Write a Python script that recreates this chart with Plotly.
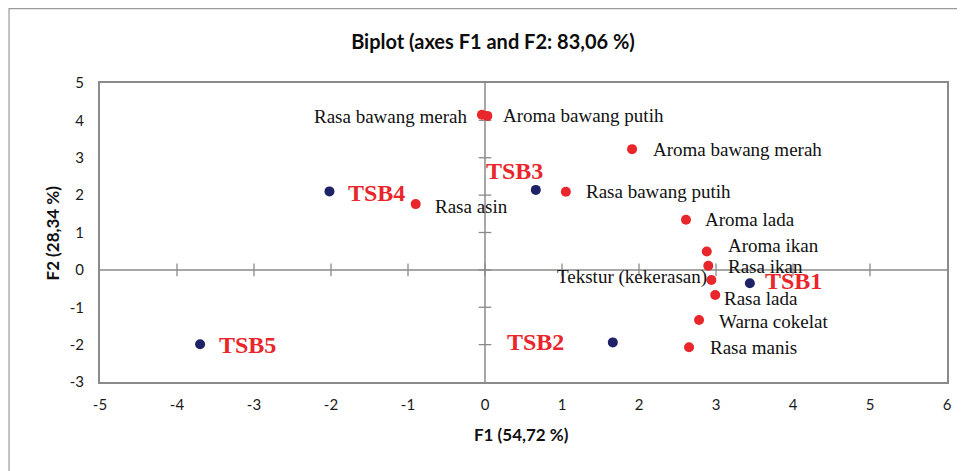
import plotly.graph_objects as go

# ---------------- data ----------------
obs_names = ["TSB1", "TSB2", "TSB3", "TSB4", "TSB5"]
obs_f1 = [3.44, 1.66, 0.66, -2.02, -3.70]
obs_f2 = [-0.36, -1.94, 2.14, 2.10, -1.99]

var_names = ["Rasa bawang merah", "Aroma bawang putih", "Aroma bawang merah",
             "Rasa bawang putih", "Aroma lada", "Rasa asin", "Aroma ikan",
             "Rasa ikan", "Tekstur (kekerasan)", "Rasa lada", "Warna cokelat",
             "Rasa manis"]
var_f1 = [-0.04, 0.03, 1.91, 1.05, 2.61, -0.90, 2.88, 2.90, 2.94, 2.99, 2.78, 2.65]
var_f2 = [4.15, 4.12, 3.23, 2.09, 1.34, 1.76, 0.49, 0.11, -0.27, -0.67, -1.34, -2.07]

x_ticks = [-5, -4, -3, -2, -1, 0, 1, 2, 3, 4, 5, 6]
x_tick_labels = ["-5", "-4", "-3", "-2", "-1", "0", "1", "2", "3", "4", "5", "6"]
y_ticks = [-3, -2, -1, 0, 1, 2, 3, 4, 5]
y_tick_labels = ["-3", "-2", "-1", "0", "1", "2", "3", "4", "5"]

title_text = "Biplot (axes F1 and F2: 83,06 %)"
x_title = "F1 (54,72 %)"
y_title = "F2 (28,34 %)"

# ---------------- styles ----------------
RED = "#E8262B"
NAVY = "#1F2266"
GREY = "#8A8A8A"
SANS = "Lato, 'Open Sans', sans-serif"
SERIF = "'Liberation Serif', 'Times New Roman', serif"

# label placement (anchor, xshift px, yshift px)
obs_place = {
    "TSB1": ("left", 13, 2),
    "TSB2": ("right", -47, 0),
    "TSB3": ("center", -21, 19),
    "TSB4": ("left", 17, -2),
    "TSB5": ("left", 17, -1),
}
var_place = {
    "Rasa bawang merah": ("right", -13, -2),
    "Aroma bawang putih": ("left", 14, 0),
    "Aroma bawang merah": ("left", 19, 0),
    "Rasa bawang putih": ("left", 18, 0),
    "Aroma lada": ("left", 17, 0),
    "Rasa asin": ("left", 17, -2),
    "Aroma ikan": ("left", 19, 6),
    "Rasa ikan": ("left", 18, -1),
    "Tekstur (kekerasan)": ("right", -2, 3),
    "Rasa lada": ("left", 7, -4),
    "Warna cokelat": ("left", 18, -2),
    "Rasa manis": ("left", 19, 0),
}

fig = go.Figure()

# zero axes through origin with crossing tick marks
xmin, xmax = x_ticks[0], x_ticks[-1]
ymin, ymax = y_ticks[0], y_ticks[-1]
fig.add_shape(type="line", x0=xmin, x1=xmax, y0=0, y1=0, xref="x", yref="y",
              line=dict(color=GREY, width=1.5), layer="below")
fig.add_shape(type="line", x0=0, x1=0, y0=ymin, y1=ymax, xref="x", yref="y",
              line=dict(color=GREY, width=1.5), layer="below")
inner_x = x_ticks[1:-1]
inner_y = y_ticks[1:-1]
fig.add_trace(go.Scatter(x=inner_x, y=[0] * len(inner_x), mode="markers",
                         marker=dict(symbol="line-ns", size=9,
                                     line=dict(color=GREY, width=1.3)),
                         hoverinfo="skip", showlegend=False))
fig.add_trace(go.Scatter(x=[0] * len(inner_y), y=inner_y, mode="markers",
                         marker=dict(symbol="line-ew", size=9,
                                     line=dict(color=GREY, width=1.3)),
                         hoverinfo="skip", showlegend=False))

# variables (red) and observations (navy)
fig.add_trace(go.Scatter(x=var_f1, y=var_f2, mode="markers",
                         marker=dict(color=RED, size=10), showlegend=False,
                         text=var_names, hoverinfo="text"))
fig.add_trace(go.Scatter(x=obs_f1, y=obs_f2, mode="markers",
                         marker=dict(color=NAVY, size=10), showlegend=False,
                         text=obs_names, hoverinfo="text"))

for n, x, y in zip(var_names, var_f1, var_f2):
    anc, dx, dy = var_place[n]
    fig.add_annotation(x=x, y=y, text=n, showarrow=False, xanchor=anc,
                       yanchor="middle", xshift=dx, yshift=dy,
                       font=dict(family=SERIF, size=19, color="#111111"))
for n, x, y in zip(obs_names, obs_f1, obs_f2):
    anc, dx, dy = obs_place[n]
    fig.add_annotation(x=x, y=y, text="<b>" + n + "</b>", showarrow=False,
                       xanchor=anc, yanchor="middle", xshift=dx, yshift=dy,
                       font=dict(family=SERIF, size=24, color=RED))

# axis titles
fig.add_annotation(xref="paper", yref="paper", x=0.498, y=-0.177,
                   text="<b>" + x_title + "</b>", showarrow=False,
                   xanchor="center", yanchor="middle",
                   font=dict(family=SANS, size=17, color="#111111"))
fig.add_annotation(xref="paper", yref="paper", x=-0.0555, y=0.5,
                   text="<b>" + y_title + "</b>", showarrow=False,
                   textangle=-90, xanchor="center", yanchor="middle",
                   font=dict(family=SANS, size=17, color="#111111"))

# outer chart border (extends past the right/bottom edge of the picture)
fig.add_shape(type="rect", xref="paper", yref="paper",
              x0=-0.1074, x1=1.08, y0=-0.40, y1=1.2488,
              line=dict(color="#9A9A9A", width=1.2), fillcolor="rgba(0,0,0,0)",
              layer="below")

fig.update_layout(
    width=957, height=463,
    margin=dict(l=92, r=18, t=75, b=89),
    paper_bgcolor="white", plot_bgcolor="white",
    title=dict(text="<b>" + title_text + "</b>", x=485 / 957, xref="container",
               xanchor="center", y=1 - 34 / 463, yref="container",
               yanchor="middle",
               font=dict(family=SANS, size=20, color="#0d0d0d")),
    xaxis=dict(range=[xmin, xmax], tickvals=x_ticks, ticktext=x_tick_labels,
               showgrid=False, zeroline=False, showline=True, mirror=True,
               linecolor=GREY, linewidth=2, ticks="", ticklabelstandoff=8,
               tickfont=dict(family=SANS, size=15, color="#1a1a1a")),
    yaxis=dict(range=[ymin, ymax], tickvals=y_ticks, ticktext=y_tick_labels,
               showgrid=False, zeroline=False, showline=True, mirror=True,
               linecolor=GREY, linewidth=2, ticks="", ticklabelstandoff=11,
               tickfont=dict(family=SANS, size=15, color="#1a1a1a")),
)

fig.write_html("out.html")
